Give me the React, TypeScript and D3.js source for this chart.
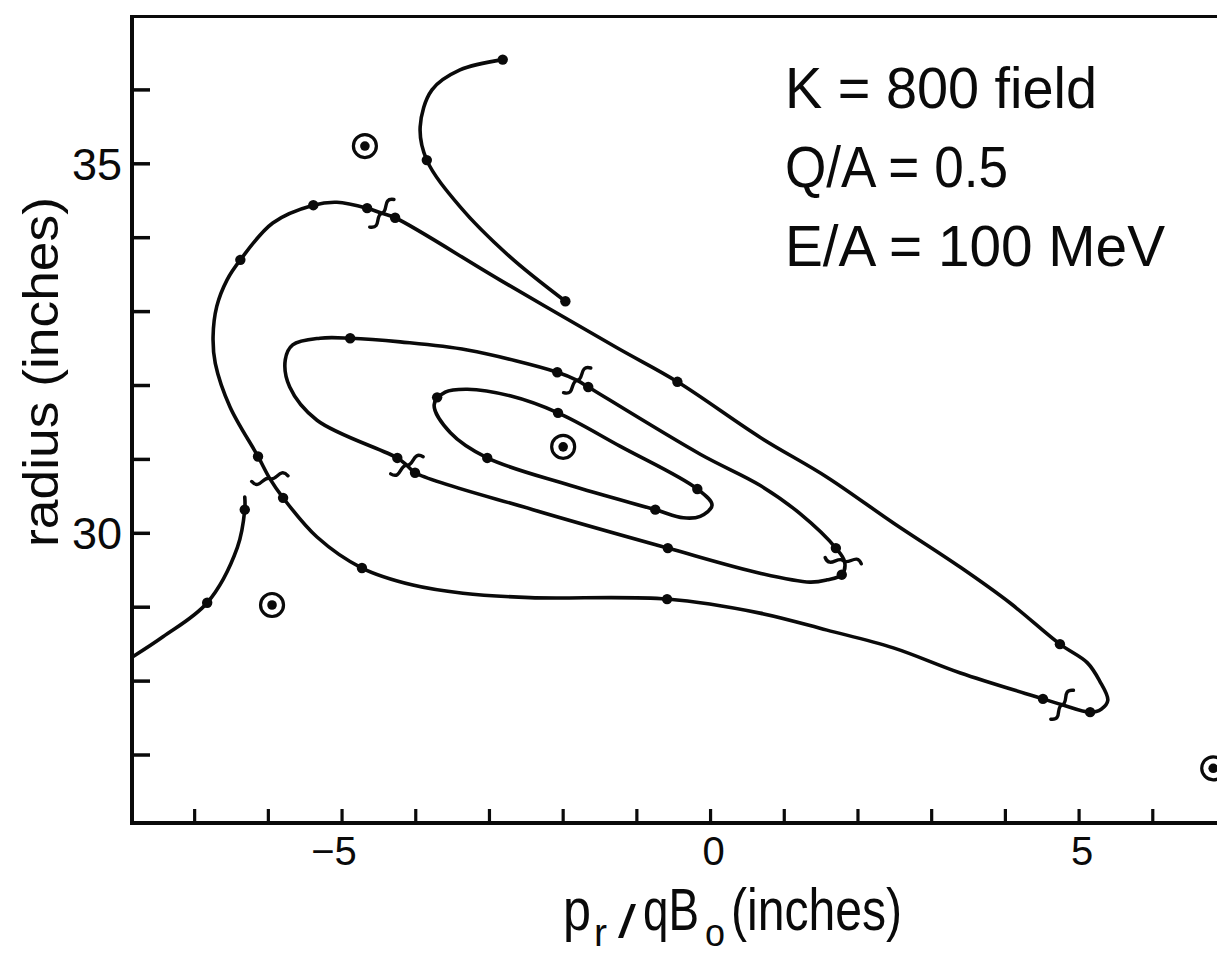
import React from 'react';
import * as d3 from 'd3';

// orbits in phase space: [p_r/qB0 (inches), radius (inches)]
const outerOrbit: [number, number][] = [
  [-6.14, 31.04], [-6.52, 31.71], [-6.72, 32.30], [-6.75, 32.66], [-6.70, 33.07],
  [-6.56, 33.43], [-6.38, 33.70], [-5.94, 34.20], [-5.39, 34.44], [-5.07, 34.48], [-4.66, 34.40],
  [-4.46, 34.33], [-4.28, 34.27], [-2.86, 33.43], [-1.27, 32.51], [-0.45, 32.05],
  [0.67, 31.30], [1.58, 30.76], [2.48, 30.14], [3.39, 29.54], [4.06, 29.06],
  [4.74, 28.50], [5.11, 28.25], [5.28, 28.00], [5.39, 27.74], [5.30, 27.62],
  [5.15, 27.58], [4.77, 27.68], [4.51, 27.76], [3.39, 28.11], [2.48, 28.45],
  [1.58, 28.69], [0.67, 28.92], [-0.59, 29.11], [-2.45, 29.13], [-3.36, 29.19],
  [-4.04, 29.30], [-4.73, 29.53], [-5.34, 29.95], [-5.80, 30.48], [-5.98, 30.74],
];

const middleOrbit: [number, number][] = [
  [-5.77, 32.35], [-5.67, 32.55], [-5.30, 32.64], [-4.89, 32.64], [-4.21, 32.59],
  [-3.30, 32.48], [-2.08, 32.18], [-1.81, 32.07], [-1.66, 31.98], [-0.14, 31.07],
  [0.67, 30.65], [1.21, 30.27], [1.70, 29.80], [1.82, 29.61], [1.78, 29.44],
  [1.58, 29.37], [1.35, 29.34], [0.67, 29.46], [-0.58, 29.80], [-2.41, 30.32],
  [-4.01, 30.82], [-4.12, 30.92], [-4.25, 31.02], [-5.34, 31.53], [-5.71, 31.98],
];

const innerOrbit: [number, number][] = [
  [-3.75, 31.74], [-3.60, 31.91], [-3.30, 31.95], [-2.72, 31.86], [-2.07, 31.63],
  [-1.23, 31.18], [-0.18, 30.60], [0.02, 30.38], [-0.14, 30.23], [-0.37, 30.21],
  [-0.75, 30.32], [-1.91, 30.65], [-3.03, 31.02], [-3.53, 31.36],
];

const upperOrbit: [number, number][] = [
  [-2.82, 36.41], [-3.40, 36.27], [-3.78, 36.00], [-3.94, 35.50],
  [-3.85, 35.05], [-3.40, 34.42], [-2.72, 33.74], [-1.97, 33.14],
];

const leftOrbit: [number, number][] = [
  [-7.84, 28.33], [-7.43, 28.60], [-6.83, 29.06], [-6.42, 29.81], [-6.32, 30.32], [-6.32, 30.49],
];

// computed turns marked on the orbits
const orbitDots: [number, number][] = [
  [-6.38, 33.70], [-5.39, 34.44], [-4.66, 34.40], [-4.28, 34.27], [-0.45, 32.05], [4.74, 28.50],
  [5.15, 27.58], [4.51, 27.76], [-0.59, 29.11], [-4.73, 29.53], [-5.80, 30.48], [-6.14, 31.04],
  [-4.89, 32.64], [-2.08, 32.18], [-1.66, 31.98], [1.70, 29.80], [1.78, 29.44], [-0.58, 29.80],
  [-4.01, 30.82], [-4.25, 31.02],
  [-3.71, 31.84], [-2.07, 31.63], [-0.18, 30.60], [-0.75, 30.32], [-3.03, 31.02],
  [-2.82, 36.41], [-3.85, 35.05], [-1.97, 33.14],
  [-6.83, 29.06], [-6.32, 30.32],
];

const crossMarks: [number, number][] = [
  [-4.46, 34.33], [-5.98, 30.74], [-1.81, 32.07], [-4.12, 30.92], [1.80, 29.63], [4.77, 27.68],
];

// fixed points (circled)
const fixedPoints: [number, number][] = [
  [-4.69, 35.24], [-2.00, 31.17], [-5.95, 29.03], [6.82, 26.82],
];

const xTicks = [-7, -6, -5, -4, -3, -2, -1, 0, 1, 2, 3, 4, 5, 6];
const yTicks = [27, 28, 29, 30, 31, 32, 33, 34, 35, 36];
const xTickLabels = [-5, 0, 5];
const yTickLabels = [30, 35];
const infoLines = ['K = 800 field', 'Q/A = 0.5', 'E/A = 100 MeV'];

const W = 1217, H = 956;
const FONT = "'Liberation Sans', Arial, sans-serif";
const INK = '#0a0a0a';

const x = d3.scaleLinear().domain([-7.85, 6.95]).range([132, 1222.8]);
const y = d3.scaleLinear().domain([26.08, 37]).range([823, 16]);

const openLine = d3.line<[number, number]>()
  .x(d => x(d[0])).y(d => y(d[1]))
  .curve(d3.curveCatmullRom.alpha(0.5));
const closedLine = d3.line<[number, number]>()
  .x(d => x(d[0])).y(d => y(d[1]))
  .curve(d3.curveCatmullRomClosed.alpha(0.5));

const curves = [
  { pts: outerOrbit, closed: true },
  { pts: middleOrbit, closed: true },
  { pts: innerOrbit, closed: true },
  { pts: upperOrbit, closed: false },
  { pts: leftOrbit, closed: false },
];

// direction of the orbit near a point, to orient the crossing marks
function tangentAngle(p: [number, number]) {
  let best: any = null;
  let bd = Infinity;
  curves.forEach(c => c.pts.forEach((q, i) => {
    const d = (x(q[0]) - x(p[0])) ** 2 + (y(q[1]) - y(p[1])) ** 2;
    if (d < bd) { bd = d; best = { c, i }; }
  }));
  const n = best.c.pts.length;
  const a = best.c.pts[best.c.closed ? (best.i - 1 + n) % n : Math.max(0, best.i - 1)];
  const b = best.c.pts[best.c.closed ? (best.i + 1) % n : Math.min(n - 1, best.i + 1)];
  return Math.atan2(y(b[1]) - y(a[1]), x(b[0]) - x(a[0])) * 180 / Math.PI;
}

const markPath = 'M 7,-17 C -5,-15 6,-4 0,0 C -6,4 5,15 -7,17';

export default function App() {
  return (
    <svg width={W} height={H} style={{ position: 'absolute', left: 0, top: 0, background: '#fff' }}>
      {/* frame */}
      <line x1={132} x2={W} y1={16.5} y2={16.5} stroke={INK} strokeWidth={3} />
      <line x1={132} x2={132} y1={15} y2={825} stroke={INK} strokeWidth={4} />
      <line x1={130} x2={W} y1={823} y2={823} stroke={INK} strokeWidth={4} />

      {yTicks.map(t => (
        <line key={'yt' + t} x1={132} x2={150} y1={y(t)} y2={y(t)} stroke={INK} strokeWidth={3.5} />
      ))}
      {xTicks.map(t => (
        <line key={'xt' + t} x1={x(t)} x2={x(t)} y1={823} y2={809} stroke={INK} strokeWidth={3.2} />
      ))}
      {yTickLabels.map(t => (
        <text key={'yl' + t} x={122} y={y(t) + 16} textAnchor="end" fontFamily={FONT} fontSize={45} fill={INK}>{t}</text>
      ))}
      {xTickLabels.map(t => (
        <text key={'xl' + t} x={x(t) + (t < 0 ? -8 : 3)} y={865} textAnchor="middle" fontFamily={FONT} fontSize={40} fill={INK}>
          {t < 0 ? '\u2212' + Math.abs(t) : t}
        </text>
      ))}

      {/* axis titles */}
      <text transform="translate(58,372) rotate(-90)" textAnchor="middle" fontFamily={FONT} fontSize={50}
        textLength={350} lengthAdjust="spacingAndGlyphs" fill={INK}>radius (inches)</text>
      <g fontFamily={FONT} fill={INK}>
        <text x={563} y={930} fontSize={60} textLength={28} lengthAdjust="spacingAndGlyphs">p</text>
        <text x={594} y={946} fontSize={38} textLength={13} lengthAdjust="spacingAndGlyphs">r</text>
        <text x={618} y={938} fontSize={46} textLength={18} lengthAdjust="spacingAndGlyphs">/</text>
        <text x={643} y={930} fontSize={60} textLength={56} lengthAdjust="spacingAndGlyphs">qB</text>
        <text x={705} y={946} fontSize={38} textLength={20} lengthAdjust="spacingAndGlyphs">o</text>
        <text x={731} y={930} fontSize={60} textLength={171} lengthAdjust="spacingAndGlyphs">(inches)</text>
      </g>

      {/* parameters */}
      {infoLines.map((s, i) => (
        <text key={s} x={785} y={108 + i * 79} fontFamily={FONT} fontSize={58} fill={INK}
          textLength={[312, 223, 380][i]} lengthAdjust="spacingAndGlyphs">{s}</text>
      ))}

      {/* orbits */}
      <g fill="none" stroke={INK} strokeWidth={3.6} strokeLinecap="round" strokeLinejoin="round">
        {curves.map((c, i) => (
          <path key={'c' + i} d={(c.closed ? closedLine : openLine)(c.pts) || ''} />
        ))}
        {crossMarks.map((p, i) => (
          <path key={'m' + i} d={markPath} strokeWidth={3.4}
            transform={`translate(${x(p[0])},${y(p[1])}) rotate(${tangentAngle(p)})`} />
        ))}
      </g>
      {orbitDots.map((p, i) => (
        <circle key={'d' + i} cx={x(p[0])} cy={y(p[1])} r={5.2} fill={INK} />
      ))}
      {fixedPoints.map((p, i) => (
        <g key={'f' + i}>
          <circle cx={x(p[0])} cy={y(p[1])} r={11.5} fill="none" stroke={INK} strokeWidth={3.2} />
          <circle cx={x(p[0])} cy={y(p[1])} r={4.8} fill={INK} />
        </g>
      ))}
    </svg>
  );
}
